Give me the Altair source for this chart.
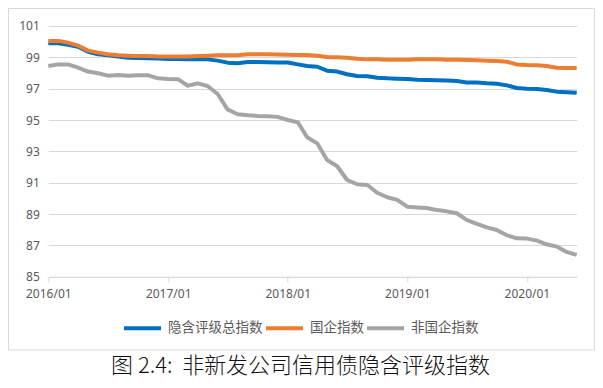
import altair as alt
import pandas as pd

months = [f"{y}/{m:02d}" for y in range(2016, 2021) for m in range(1, 13)][:54]

total_index = [99.90, 99.90, 99.80, 99.68, 99.35, 99.20, 99.13, 99.05, 98.98, 98.96,
               98.94, 98.92, 98.90, 98.90, 98.87, 98.87, 98.87, 98.79, 98.66, 98.62,
               98.70, 98.70, 98.68, 98.67, 98.67, 98.55, 98.45, 98.40, 98.15, 98.09,
               97.92, 97.81, 97.79, 97.70, 97.66, 97.64, 97.62, 97.57, 97.55, 97.53,
               97.52, 97.49, 97.40, 97.40, 97.34, 97.32, 97.21, 97.04, 97.00, 96.98,
               96.92, 96.81, 96.77, 96.74]
soe_index = [100.04, 100.05, 99.94, 99.75, 99.43, 99.30, 99.20, 99.13, 99.10, 99.08,
             99.08, 99.06, 99.06, 99.06, 99.06, 99.08, 99.10, 99.13, 99.13, 99.13,
             99.20, 99.19, 99.19, 99.18, 99.17, 99.15, 99.15, 99.10, 99.02, 99.00,
             98.98, 98.91, 98.87, 98.87, 98.85, 98.85, 98.85, 98.87, 98.87, 98.87,
             98.85, 98.85, 98.83, 98.81, 98.79, 98.77, 98.72, 98.55, 98.51, 98.50,
             98.45, 98.34, 98.32, 98.32]
non_soe_index = [98.45, 98.55, 98.55, 98.34, 98.09, 97.98, 97.83, 97.87, 97.83, 97.85,
                 97.85, 97.66, 97.62, 97.60, 97.19, 97.34, 97.17, 96.66, 95.68, 95.37,
                 95.30, 95.26, 95.24, 95.20, 95.00, 94.85, 93.90, 93.51, 92.45, 92.05,
                 91.17, 90.90, 90.85, 90.36, 90.07, 89.90, 89.47, 89.42, 89.38, 89.26,
                 89.17, 89.05, 88.62, 88.37, 88.15, 87.98, 87.64, 87.45, 87.43, 87.30,
                 87.07, 86.92, 86.58, 86.39]

series_names = ["隐含评级总指数", "国企指数", "非国企指数"]
series_colors = ["#0070C0", "#ED7D31", "#A5A5A5"]
x_tick_labels = ["2016/01", "2017/01", "2018/01", "2019/01", "2020/01"]
y_ticks = [85, 87, 89, 91, 93, 95, 97, 99, 101]
title_text = "图 2.4:\u00a0\u00a0非新发公司信用债隐含评级指数"

rows = []
for name, vals in zip(series_names, [total_index, soe_index, non_soe_index]):
    for mo, v in zip(months, vals):
        rows.append({"date": mo + "/01", "series": name, "value": v})
df = pd.DataFrame(rows)

W, H = 528.4, 250.7
label_font = "Noto Sans"
cjk_font = "Noto Sans CJK SC"

x_ticks = [alt.DateTime(year=int(t[:4]), month=int(t[5:]), date=1) for t in x_tick_labels]

lines = alt.Chart(df).mark_line(strokeWidth=4, strokeJoin="round").encode(
    x=alt.X("date:T",
            scale=alt.Scale(domain=[alt.DateTime(year=2016, month=1, date=1),
                                    alt.DateTime(year=2020, month=6, date=1)]),
            axis=alt.Axis(values=x_ticks, format="%Y/%m", title=None, grid=False,
                          domainColor="#D9D9D9", tickColor="#D9D9D9", tickSize=5,
                          labelFont=label_font, labelFontSize=12, labelColor="#595959",
                          labelPadding=7, labelFlush=False)),
    y=alt.Y("value:Q",
            scale=alt.Scale(domain=[85, 101], nice=False, zero=False),
            axis=alt.Axis(values=y_ticks, title=None, domain=False, ticks=False,
                          gridColor="#D9D9D9", labelFont=label_font, labelFontSize=12,
                          labelColor="#595959", labelPadding=9)),
    color=alt.Color("series:N",
                    scale=alt.Scale(domain=series_names, range=series_colors),
                    legend=alt.Legend(orient="none", legendX=73.7, legendY=281.5,
                                      direction="horizontal", title=None,
                                      symbolType="stroke", symbolSize=1369,
                                      symbolStrokeWidth=4, labelFont=cjk_font,
                                      labelFontSize=13.5, labelColor="#595959",
                                      labelOffset=5, columnPadding=-5)),
    detail="series:N",
)

frame = alt.Chart(alt.Data(values=[{"a": 1}])).mark_rect(
    fill="transparent", stroke="#D9D9D9", strokeWidth=1
).encode(
    x=alt.value(-39.8), x2=alt.value(546.2), y=alt.value(-17.5), y2=alt.value(324)
)

chart = alt.layer(lines, frame).properties(
    width=W, height=H,
    autosize=alt.AutoSizeParams(type="none"),
    padding={"left": 40.3, "top": 18, "right": 18.3, "bottom": 103},
    title=alt.Title(title_text, orient="bottom", anchor="middle", dx=-12, offset=6,
                    font=cjk_font, fontSize=22, fontWeight=300, color="#111111"),
).configure_view(stroke=None)

chart.save("out.html", embed_options={"renderer": "svg", "actions": False})
